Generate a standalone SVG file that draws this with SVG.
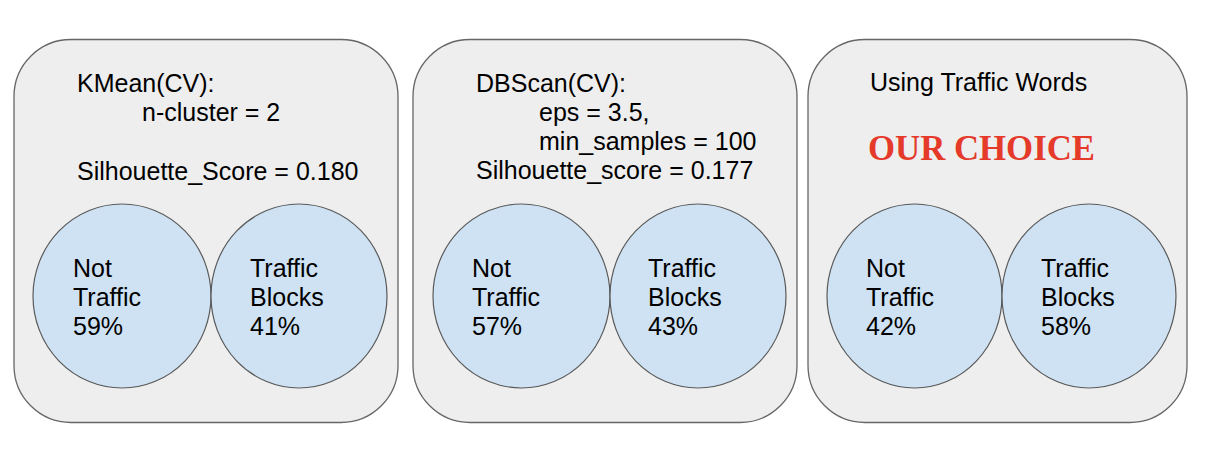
<svg xmlns="http://www.w3.org/2000/svg" width="1214" height="460" viewBox="0 0 1214 460">
<style>
.box{fill:#eeeeee;stroke:#666666;stroke-width:1.3}
.c{fill:#cfe2f3;stroke:#595959;stroke-width:1.2}
.t{font-family:"Liberation Sans",Arial,sans-serif;font-size:25px;fill:#000}
.red{font-family:"Liberation Serif","Times New Roman",serif;font-size:36px;font-weight:bold;fill:#e5392a}
</style>
<rect width="1214" height="460" fill="#ffffff"/>
<g id="kmean">
<rect class="box" x="14" y="39.5" width="384" height="383" rx="57" ry="57"/>
<text class="t" x="77" y="92">KMean(CV):</text>
<text class="t" x="142" y="121">n-cluster = 2</text>
<text class="t" x="77" y="180">Silhouette_Score = 0.180</text>
<ellipse class="c" cx="122" cy="296" rx="89" ry="92"/>
<ellipse class="c" cx="299" cy="296" rx="88" ry="92"/>
<text class="t" x="73" y="277">Not</text>
<text class="t" x="73" y="306">Traffic</text>
<text class="t" x="73" y="335">59%</text>
<text class="t" x="250" y="277">Traffic</text>
<text class="t" x="250" y="306">Blocks</text>
<text class="t" x="250" y="335">41%</text>
</g>
<g id="dbscan">
<rect class="box" x="413" y="39.5" width="384" height="383" rx="57" ry="57"/>
<text class="t" x="476" y="92">DBScan(CV):</text>
<text class="t" x="539" y="121">eps = 3.5,</text>
<text class="t" x="539" y="150">min_samples = 100</text>
<text class="t" x="476" y="179">Silhouette_score = 0.177</text>
<ellipse class="c" cx="521.5" cy="296" rx="88.5" ry="92"/>
<ellipse class="c" cx="698" cy="296" rx="88" ry="92"/>
<text class="t" x="472" y="277">Not</text>
<text class="t" x="472" y="306">Traffic</text>
<text class="t" x="472" y="335">57%</text>
<text class="t" x="648" y="277">Traffic</text>
<text class="t" x="648" y="306">Blocks</text>
<text class="t" x="648" y="335">43%</text>
</g>
<g id="traffic-words">
<rect class="box" x="808" y="39.5" width="379" height="383" rx="57" ry="57"/>
<text class="t" x="870" y="91">Using Traffic Words</text>
<text class="red" x="868" y="160" textLength="227" lengthAdjust="spacingAndGlyphs">OUR CHOICE</text>
<ellipse class="c" cx="914.5" cy="296" rx="87.5" ry="92"/>
<ellipse class="c" cx="1089" cy="296" rx="87" ry="92"/>
<text class="t" x="866" y="277">Not</text>
<text class="t" x="866" y="306">Traffic</text>
<text class="t" x="866" y="335">42%</text>
<text class="t" x="1041" y="277">Traffic</text>
<text class="t" x="1041" y="306">Blocks</text>
<text class="t" x="1041" y="335">58%</text>
</g>
<g id="connectors"/>
</svg>
